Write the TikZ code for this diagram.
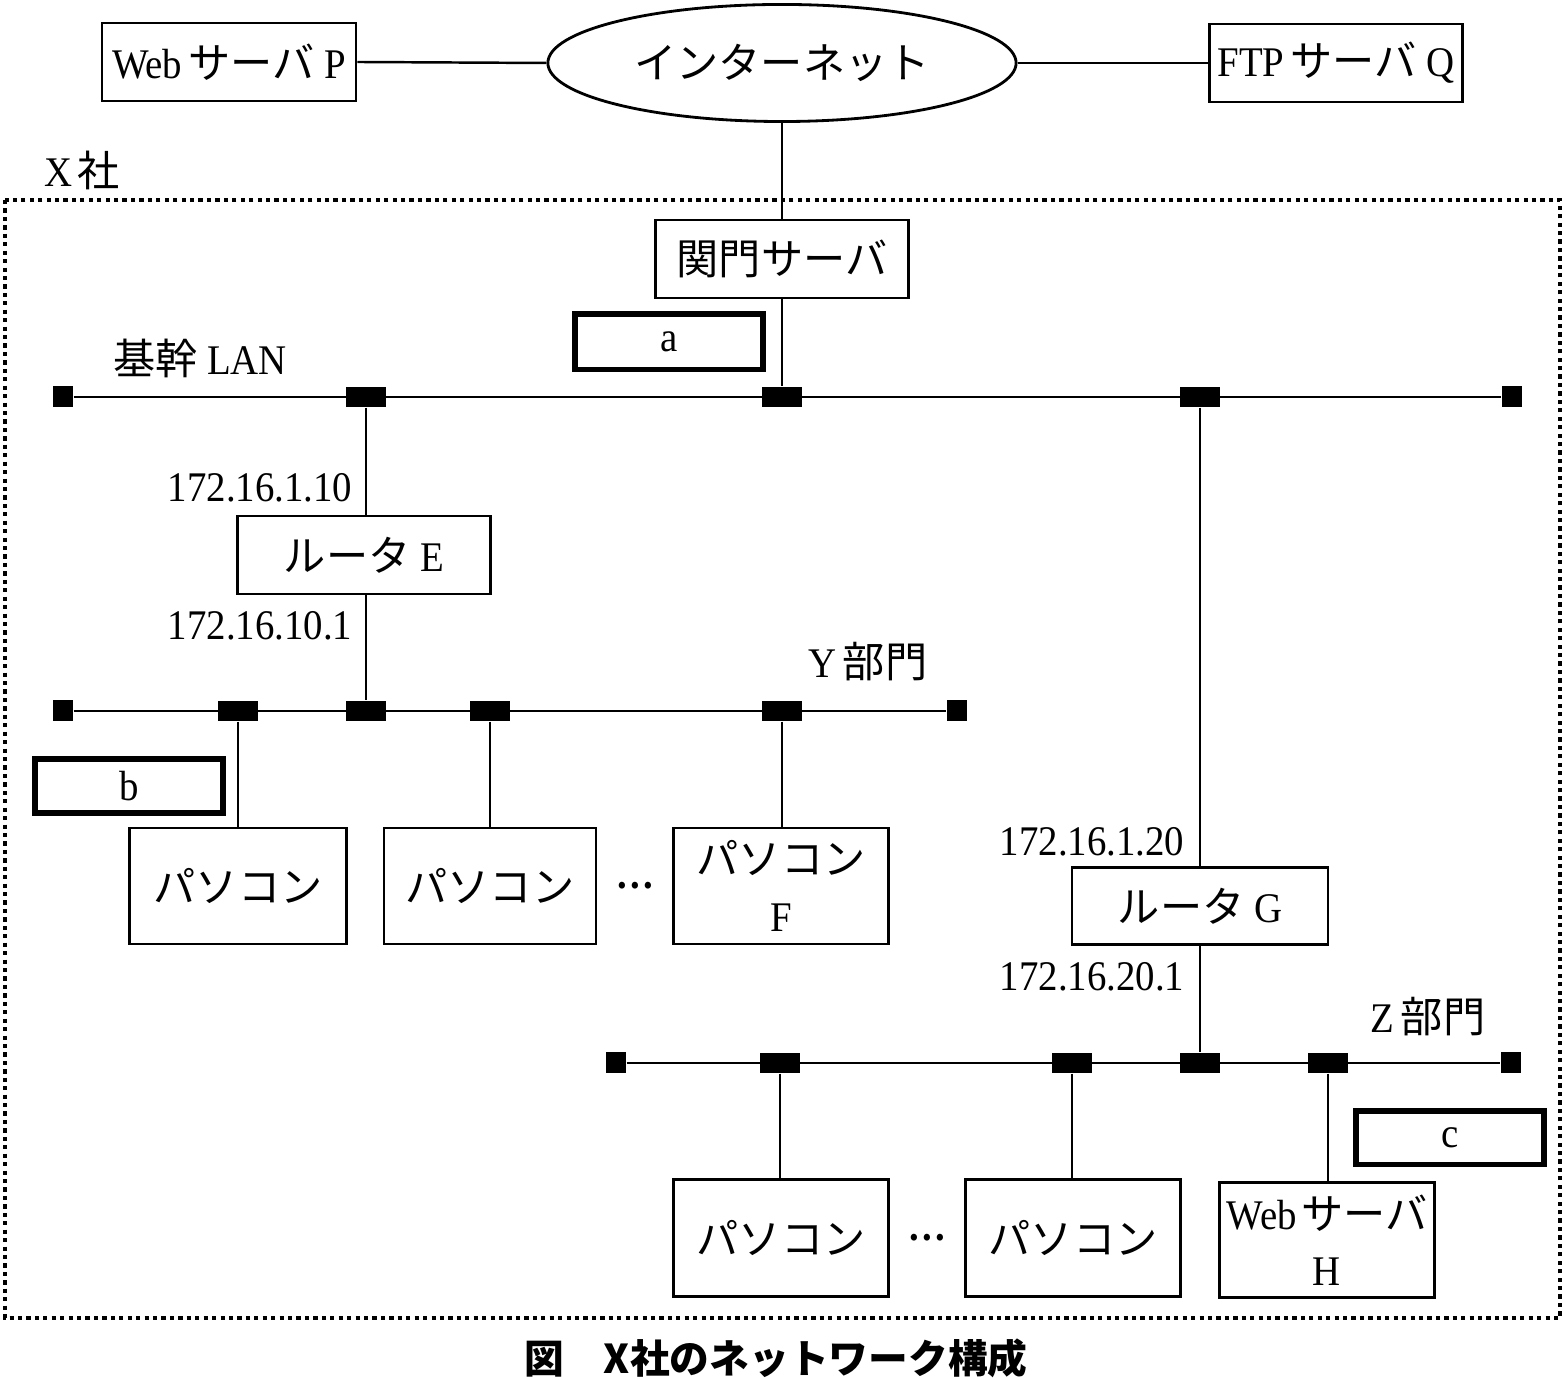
\documentclass[tikz,border=0pt]{standalone}
\usepackage{fontspec}
\setmainfont[FakeStretch=0.92]{Liberation Serif}
\newfontfamily\jp{Noto Sans CJK JP}
\usetikzlibrary{shapes.geometric}

\tikzset{
  txt/.style={font=\fontsize{12}{16}\selectfont},
  box/.style={draw, line width=0.8pt, inner sep=0pt, align=center, txt},
  blank/.style={draw, line width=1.7pt, inner sep=0pt, txt},
  tap/.style={fill=black, inner sep=0pt, minimum width=0.4cm, minimum height=0.2cm},
  term/.style={fill=black, inner sep=0pt, minimum width=0.2cm, minimum height=0.21cm},
  wire/.style={line width=0.7pt},
  lbl/.style={inner sep=0pt, txt},
  ell/.style={inner sep=0pt, anchor=base, font=\fontsize{12}{16}\selectfont\bfseries},
}
\newcommand\threedots{.\kern0.9pt.\kern0.9pt.}

\begin{document}
\begin{tikzpicture}[x=0.01cm, y=-0.01cm]
\useasboundingbox (0,0) rectangle (1562,1380);

% --- outside world ---
\node[box, minimum width=2.54cm, minimum height=0.78cm] (webp) at (229,62)
  {Web\hspace{0.15em}{\jp サーバ} P};
\node[box, ellipse, minimum width=4.68cm, minimum height=1.17cm] (inet) at (782,63)
  {\jp インターネット};
\node[box, minimum width=2.53cm, minimum height=0.78cm] (ftpq) at (1336,63)
  {FTP\hspace{0.15em}{\jp サーバ} Q};
\draw[wire] (webp.east) -- (inet.west);
\draw[wire] (inet.east) -- (ftpq.west);

% --- company boundary ---
\node[lbl] (xsha) at (82,170) {X\hspace{0.1em}{\jp 社}};
\draw[line width=0.9pt, dash pattern=on 1.2pt off 1.2pt] (5,200) rectangle (1560,1318);

% --- gateway and backbone ---
\node[box, minimum width=2.53cm, minimum height=0.78cm] (gw) at (782,259) {\jp 関門サーバ};
\node[blank, minimum width=1.88cm, minimum height=0.55cm] (ba) at (669,342) {a};
\node[lbl] (kikan) at (200,358) {{\jp 基幹} LAN};

\node[term] (bbL) at (63,397) {};
\node[term] (bbR) at (1512,397) {};
\node[tap] (bb1) at (366,397) {};
\node[tap] (bb2) at (782,397) {};
\node[tap] (bb3) at (1200,397) {};
\draw[wire] (bbL) -- (bbR);
\draw[wire] (inet.south) -- (gw.north);
\draw[wire] (gw.south) -- (bb2);

% --- router E and section Y ---
\node[box, minimum width=2.53cm, minimum height=0.78cm] (rE) at (364,555) {{\jp ルータ} E};
\node[lbl, anchor=east] (ipE1) at (353,488) {172.16.1.10};
\node[lbl, anchor=east] (ipE2) at (353,626) {172.16.10.1};
\draw[wire] (bb1) -- (bb1 |- rE.north);

\node[term] (yL) at (63,711) {};
\node[term] (yR) at (957,711) {};
\node[tap] (y1) at (238,711) {};
\node[tap] (y2) at (366,711) {};
\node[tap] (y3) at (490,711) {};
\node[tap] (y4) at (782,711) {};
\draw[wire] (yL) -- (yR);
\draw[wire] (y2 |- rE.south) -- (y2);
\node[lbl] (ylbl) at (868,662) {Y\hspace{0.15em}{\jp 部門}};
\node[blank, minimum width=1.88cm, minimum height=0.54cm] (bb) at (129,786) {b};

\node[box, minimum width=2.17cm, minimum height=1.16cm] (p1) at (238,886) {\jp パソコン};
\node[box, minimum width=2.12cm, minimum height=1.16cm] (p2) at (490,886) {\jp パソコン};
\node[box, minimum width=2.15cm, minimum height=1.16cm] (pF) at (781,886) {{\jp パソコン}\\F};
\node[ell] (dotsY) at (635,889) {\threedots};
\draw[wire] (y1) -- (y1 |- p1.north);
\draw[wire] (y3) -- (y3 |- p2.north);
\draw[wire] (y4) -- (y4 |- pF.north);

% --- router G and section Z ---
\node[box, minimum width=2.56cm, minimum height=0.77cm] (rG) at (1200,906) {{\jp ルータ} G};
\node[lbl, anchor=east] (ipG1) at (1185,842) {172.16.1.20};
\node[lbl, anchor=east] (ipG2) at (1185,977) {172.16.20.1};
\draw[wire] (bb3) -- (bb3 |- rG.north);

\node[term] (zL) at (616,1063) {};
\node[term] (zR) at (1511,1063) {};
\node[tap] (z1) at (780,1063) {};
\node[tap] (z2) at (1072,1063) {};
\node[tap] (z3) at (1200,1063) {};
\node[tap] (z4) at (1328,1063) {};
\draw[wire] (zL) -- (zR);
\draw[wire] (z3 |- rG.south) -- (z3);
\node[lbl] (zlbl) at (1428,1017) {Z\hspace{0.15em}{\jp 部門}};
\node[blank, minimum width=1.87cm, minimum height=0.53cm] (bc) at (1450,1138) {c};

\node[box, minimum width=2.15cm, minimum height=1.17cm] (q1) at (781,1238) {\jp パソコン};
\node[box, minimum width=2.15cm, minimum height=1.17cm] (q2) at (1073,1238) {\jp パソコン};
\node[box, minimum width=2.15cm, minimum height=1.15cm] (wH) at (1327,1240) {Web\hspace{0.1em}{\jp サーバ}\\H};
\node[ell] (dotsZ) at (927,1241) {\threedots};
\draw[wire] (z1) -- (z1 |- q1.north);
\draw[wire] (z2) -- (z2 |- q2.north);
\draw[wire] (z4) -- (z4 |- wH.north);

% --- caption ---
\node[lbl, font=\fontsize{11.3}{14}\selectfont] (cap) at (776,1358) {\jp\bfseries 図　X社のネットワーク構成};
\end{tikzpicture}
\end{document}
